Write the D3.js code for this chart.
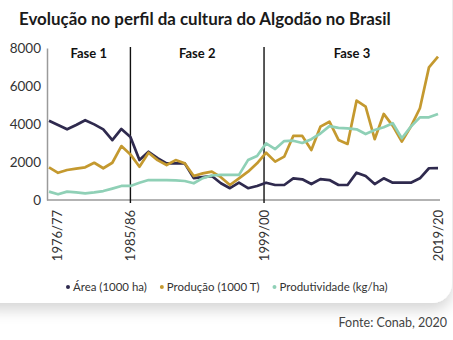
<!DOCTYPE html>
<html>
<head>
<meta charset="utf-8">
<script src="https://cdn.jsdelivr.net/npm/d3@7"></script>
<style>
  html, body { margin: 0; padding: 0; background: #ffffff; }
  svg { display: block; }
</style>
</head>
<body>
<svg id="chart" width="453" height="340"></svg>
<script>
// Safras (seasons) on the horizontal axis
const seasons = [
  "1976/77","1977/78","1978/79","1979/80","1980/81","1981/82","1982/83","1983/84","1984/85","1985/86",
  "1986/87","1987/88","1988/89","1989/90","1990/91","1991/92","1992/93","1993/94","1994/95","1995/96",
  "1996/97","1997/98","1998/99","1999/00","2000/01","2001/02","2002/03","2003/04","2004/05","2005/06",
  "2006/07","2007/08","2008/09","2009/10","2010/11","2011/12","2012/13","2013/14","2014/15","2015/16",
  "2016/17","2017/18","2018/19","2019/20"
];

// Área plantada (1000 ha)
const area = [
  4170, 3950, 3720, 3950, 4200, 3980, 3720, 3150, 3740, 3320,
  2100, 2540, 2200, 1930, 1930, 1930, 1150, 1200, 1260, 880,
  620, 910, 620, 740, 910, 790, 790, 1140, 1090, 840,
  1100, 1050, 790, 790, 1440, 1260, 840, 1140, 910, 910,
  910, 1140, 1670, 1680
];

// Produção (1000 T)
const producao = [
  1720, 1430, 1580, 1650, 1720, 1960, 1670, 1960, 2840, 2400,
  1750, 2490, 2100, 1840, 2100, 1930, 1260, 1400, 1490, 1200,
  790, 1140, 1490, 1930, 2490, 2020, 2280, 3370, 3370, 2630,
  3860, 4120, 3160, 2950, 5230, 4910, 3200, 4530, 3900, 3070,
  3860, 4830, 6980, 7540
];

// Produtividade (kg/ha)
const produtividade = [
  440, 300, 440, 400, 350, 400, 470, 600, 740, 740,
  910, 1050, 1050, 1050, 1030, 1000, 880, 1150, 1290, 1320,
  1320, 1320, 2100, 2320, 2980, 2680, 3100, 3120, 3000, 3200,
  3500, 3890, 3800, 3770, 3720, 3470, 3680, 3830, 4040, 3250,
  3860, 4350, 4350, 4530
];

const yTicks = [0, 2000, 4000, 6000, 8000];

// Seasons that get a label under the axis; "offset" nudges a label/divider along the season grid
const axisLabels = [
  { season: "1976/77", offset: 0.9 },
  { season: "1985/86", offset: 0 },
  { season: "1999/00", offset: 0.77 },
  { season: "2019/20", offset: 0 }
];

// Phase dividers and phase titles
const dividers = [
  { season: "1985/86", offset: 0 },
  { season: "1999/00", offset: 0.77 }
];
const phases = [
  { name: "Fase 1", from: "1976/77", to: "1985/86" },
  { name: "Fase 2", from: "1985/86", to: "1999/00" },
  { name: "Fase 3", from: "1999/00", to: "2019/20" }
];

const series = [
  { name: "Área (1000 ha)", values: area, color: "#2f2a4e" },
  { name: "Produção (1000 T)", values: producao, color: "#c4992f" },
  { name: "Produtividade (kg/ha)", values: produtividade, color: "#8fd0b6" }
];

const FONT = "Lato, 'Open Sans', sans-serif";
const svg = d3.select("#chart");

// Card with soft shadow
const defs = svg.append("defs");
const f = defs.append("filter").attr("id", "shadow")
  .attr("x", "-10%").attr("y", "-10%").attr("width", "120%").attr("height", "130%");
f.append("feDropShadow").attr("dx", 0).attr("dy", 7).attr("stdDeviation", 7)
  .attr("flood-color", "#000").attr("flood-opacity", 0.16);

svg.append("rect").attr("x", -30).attr("y", -30).attr("width", 482).attr("height", 333)
  .attr("rx", 20).attr("fill", "#ffffff").attr("filter", "url(#shadow)");

// Title, fitted to its width
const title = svg.append("text")
  .attr("x", 19).attr("y", 25)
  .attr("font-family", FONT).attr("font-weight", 700).attr("font-size", 18)
  .attr("fill", "#1a1a1a")
  .text("Evolução no perfil da cultura do Algodão no Brasil");
const tw = title.node().getComputedTextLength();
title.attr("font-size", 18 * 372 / tw);

// Scales
const idx = d3.scaleLinear().domain([0, seasons.length - 1]).range([49, 438]);
const xo = d => idx(seasons.indexOf(d.season) + d.offset);
const y = d3.scaleLinear().domain([0, 8000]).range([200, 48]);

// Y axis
const yAxis = svg.append("g").attr("transform", "translate(47,0)")
  .call(d3.axisLeft(y).tickValues(yTicks).tickFormat(d3.format("d")).tickSize(0).tickPadding(6));
yAxis.select(".domain").attr("stroke", "#9a9a9a").attr("stroke-width", 1.5);
yAxis.selectAll("text").attr("font-family", FONT).attr("font-size", 13.5).attr("fill", "#333");

// X axis line
svg.append("line")
  .attr("x1", 47).attr("x2", 440).attr("y1", y(0)).attr("y2", y(0))
  .attr("stroke", "#9a9a9a").attr("stroke-width", 1.5);

// X labels (rotated)
svg.append("g").selectAll("text").data(axisLabels).join("text")
  .attr("transform", d => `translate(${xo(d)},210) rotate(-90)`)
  .attr("text-anchor", "end").attr("dy", "0.35em")
  .attr("font-family", FONT).attr("font-size", 13).attr("fill", "#333")
  .text(d => d.season);

// Phase dividers
svg.append("g").selectAll("line").data(dividers).join("line")
  .attr("x1", xo).attr("x2", xo).attr("y1", 47).attr("y2", 203)
  .attr("stroke", "#111").attr("stroke-width", 1.4);

// Phase titles
const phaseCenter = p => {
  const a = dividers.find(d => d.season === p.from);
  const b = dividers.find(d => d.season === p.to);
  const left = a ? xo(a) : 47;
  const right = b ? xo(b) : 440;
  return (left + right) / 2;
};
svg.append("g").selectAll("text").data(phases).join("text")
  .attr("x", phaseCenter).attr("y", 58).attr("text-anchor", "middle")
  .attr("font-family", FONT).attr("font-weight", 700).attr("font-size", 13)
  .attr("fill", "#111").text(d => d.name);

// Lines
const line = d3.line().x((d, i) => idx(i)).y(d => y(d)).curve(d3.curveLinear);
svg.append("g").selectAll("path").data(series).join("path")
  .attr("d", d => line(d.values))
  .attr("fill", "none").attr("stroke", d => d.color)
  .attr("stroke-width", 2.7).attr("stroke-linejoin", "round");

// Legend, fitted to span 66..386
const lg = svg.append("g");
const texts = [];
series.forEach(s => {
  const g = lg.append("g");
  g.append("circle").attr("r", 2).attr("fill", s.color);
  const t = g.append("text").attr("x", 5).attr("dy", "0.35em")
    .attr("font-family", FONT).attr("font-size", 13).attr("fill", "#333").text(s.name);
  texts.push({ g, t });
});
const gap = 15, dotPad = 5;
const rawText = d3.sum(texts, d => d.t.node().getComputedTextLength());
const targetText = 320 - 2 * gap - 3 * dotPad;
const fs = 13 * targetText / rawText;
let cx = 0;
texts.forEach(d => {
  d.t.attr("font-size", fs);
  d.g.attr("transform", `translate(${cx},0)`);
  cx += dotPad + d.t.node().getComputedTextLength() + gap;
});
lg.attr("transform", "translate(68,287)");

// Source
svg.append("text").attr("x", 447).attr("y", 323).attr("dy", "0.35em")
  .attr("text-anchor", "end").attr("font-family", FONT).attr("font-size", 12.5)
  .attr("fill", "#444").text("Fonte: Conab, 2020");
</script>
</body>
</html>
